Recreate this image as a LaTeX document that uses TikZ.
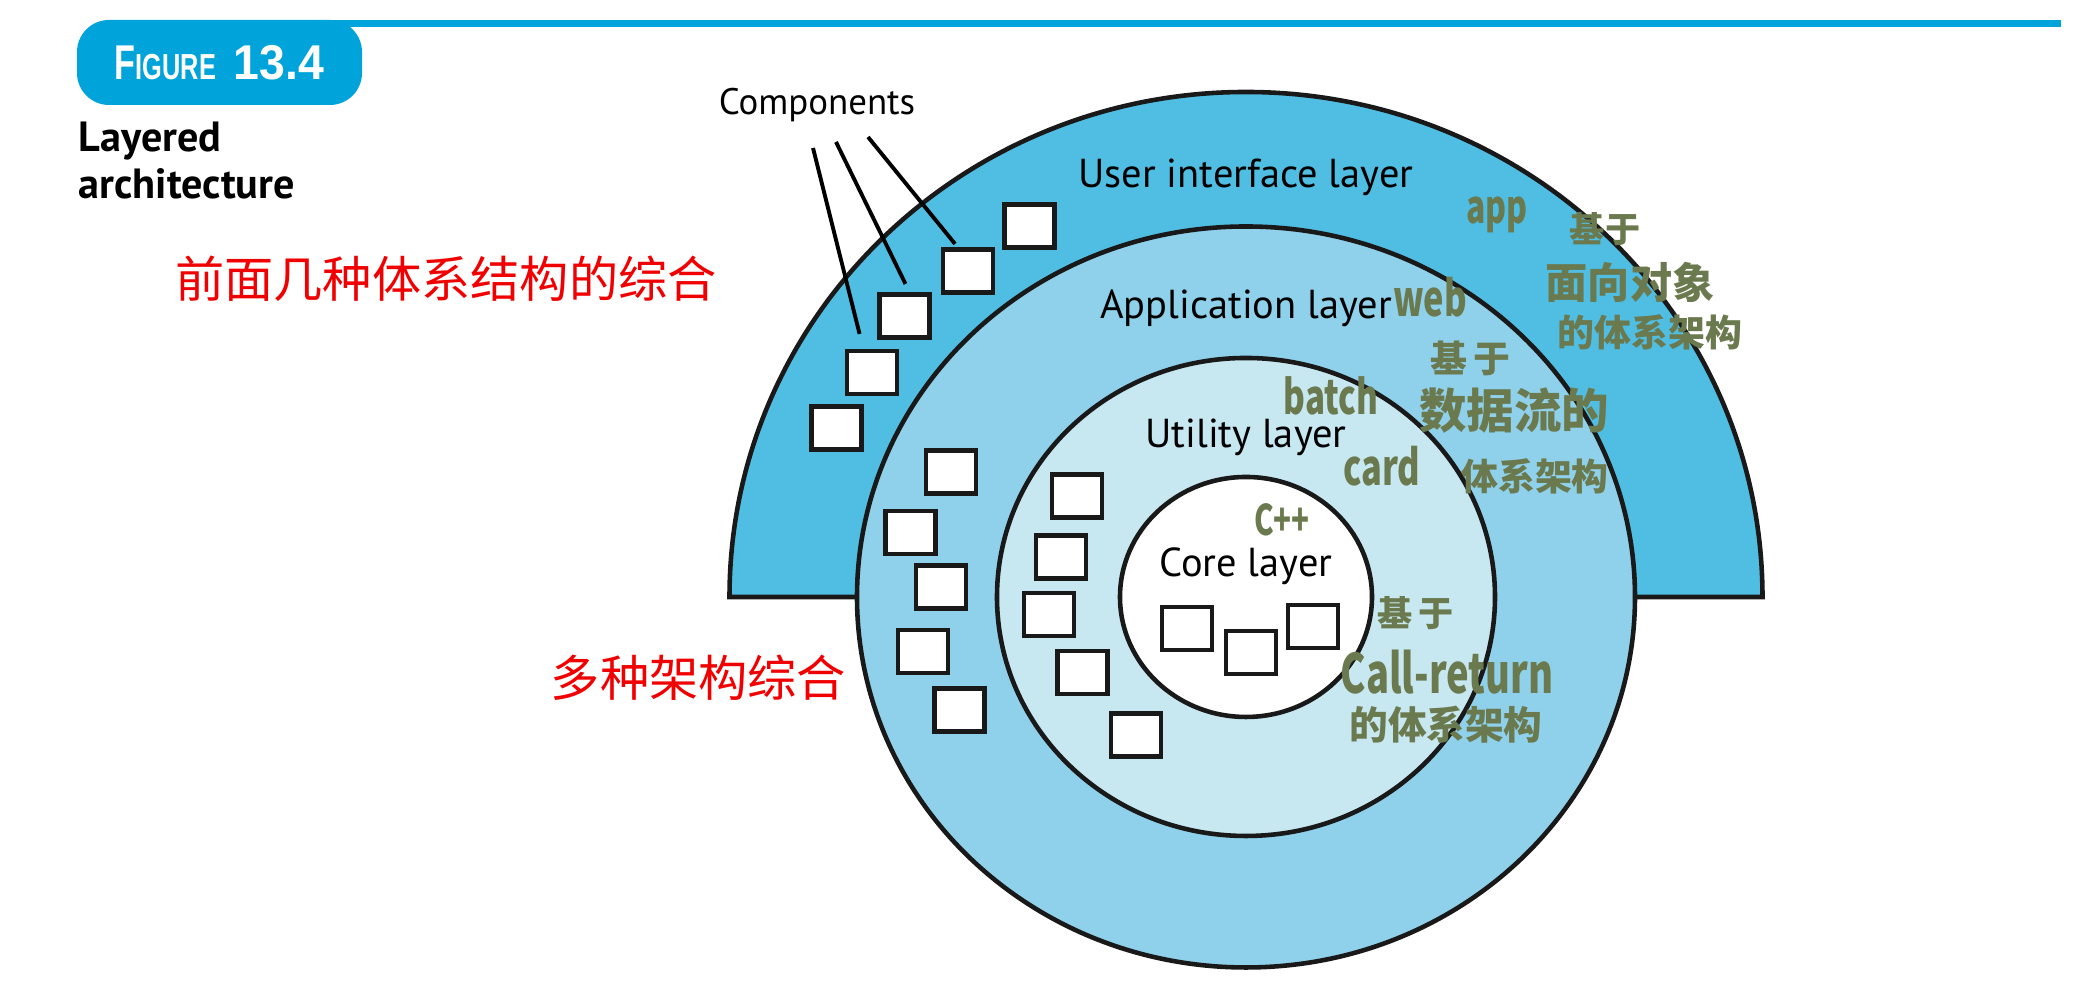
\documentclass[tikz,border=0pt]{standalone}
\usepackage{graphicx}
\usepackage{fontspec}
\setmainfont{PT Sans}
\newfontfamily\cjkfont{Noto Sans CJK SC}
\newfontfamily\figfont{Liberation Sans}
\usetikzlibrary{positioning, calc}
\definecolor{figblue}{RGB}{0,163,218}
\definecolor{uiblue}{RGB}{80,190,227}
\definecolor{appblue}{RGB}{143,208,234}
\definecolor{utilblue}{RGB}{199,231,241}
\definecolor{handgreen}{RGB}{107,122,78}
\definecolor{notered}{RGB}{240,0,0}
\newcommand{\narrow}[1]{\scalebox{0.7}[1]{#1}}

\begin{document}
\begin{tikzpicture}[
	layer/.style={font=\fontsize{11.5}{13}\selectfont, anchor=base, inner sep=0pt},
	comp/.style={draw=black!90, fill=white, line width=1.4pt,
		minimum width=5mm, minimum height=4.3mm, inner sep=0pt},
	ring/.style={draw=black!90, line width=1.3pt},
	hand/.style={text=handgreen, inner sep=0pt,
		font=\cjkfont\bfseries\fontsize{#1}{#1}\selectfont},
	note/.style={text=notered, inner sep=0pt,
		font=\cjkfont\fontsize{14}{16}\selectfont}
	]
	\useasboundingbox (0,0) rectangle (20.74,10);
	
	\fill[figblue] (3.3,9.73) rectangle (20.61,9.80);
	\node[fill=figblue, rounded corners=3.2mm,
	minimum width=2.85cm, minimum height=0.85cm, text=white,
	font=\figfont\bfseries\fontsize{13.9}{15}\selectfont]
	(fig) at (2.195,9.375)
	{\scalebox{0.7}[1]{F{\fontsize{10.3}{12}\selectfont IGURE}}\hspace{1.8mm}\scalebox{0.95}[1]{13.4}};
	
	\node[anchor=base west, inner sep=0pt, font=\bfseries\fontsize{12}{14}\selectfont]
	(title1) at (0.78,8.48) {Layered};
	\node[anchor=base west, inner sep=0pt, font=\bfseries\fontsize{12}{14}\selectfont]
	(title2) at (0.78,8.01) {architecture};
	
	\filldraw[ring, fill=uiblue, line join=miter] (7.295,4.03)
	arc[start angle=180, end angle=0, x radius=5.165cm, y radius=5.05cm] -- cycle;
	\filldraw[ring, fill=appblue] (12.46,4.03) ellipse [x radius=3.89cm, y radius=3.705cm];
	\filldraw[ring, fill=utilblue] (12.46,4.03) ellipse [x radius=2.49cm, y radius=2.39cm];
	\filldraw[ring, fill=white] (12.46,4.03) ellipse [x radius=1.26cm, y radius=1.2cm];
	
	\node[layer] (uil) at (12.46,8.12) {User interface layer};
	\node[layer] (appl) at (12.46,6.81) {Application layer};
	\node[layer] (utill) at (12.46,5.52) {Utility layer};
	\node[layer] (corel) at (12.46,4.23) {Core layer};
	
	\foreach \n/\x/\y in {1/10.295/7.74, 2/9.68/7.29, 3/9.045/6.84, 4/8.72/6.275,
		5/8.365/5.72, 6/9.51/5.28, 7/9.105/4.675, 8/9.41/4.13, 9/9.23/3.485,
		10/9.595/2.90, 11/10.77/5.04, 12/10.61/4.43, 13/10.49/3.855,
		14/10.825/3.275, 15/11.36/2.65, 16/11.87/3.715, 17/12.51/3.475,
		18/13.13/3.735}
	\node[comp] (c\n) at (\x,\y) {};
	
	\node[anchor=base, inner sep=0pt, font=\fontsize{10.5}{12}\selectfont]
	(comps) at (8.17,8.85) {Components};
	\coordinate (l1) at (8.13,8.52);
	\coordinate (l2) at (8.36,8.58);
	\coordinate (l3) at (8.68,8.63);
	\draw[line width=1.1pt, shorten >=1.5mm] (l1) -- ($(c4.north west)!0.34!(c4.north east)$);
	\draw[line width=1.1pt, shorten >=0.9mm] (l2) -- ($(c3.north west)!0.59!(c3.north east)$);
	\draw[line width=1.1pt, shorten >=0.4mm] (l3) -- ($(c2.north west)!0.31!(c2.north east)$);
	
	\node[note] (note1) at (4.46,7.21) {前面几种体系结构的综合};
	\node[note] (note2) at (6.985,3.22) {多种架构综合};
	
	\node[hand=13] (app) at (14.97,7.85) {\narrow{app}};
	\node[hand=10] (oo1) at (16.05,7.71) {基于};
	\node[hand=12] (oo2) at (16.30,7.18) {面向对象};
	\node[hand=10.5] (oo3) at (16.50,6.68) {的体系架构};
	\node[hand=14] (web) at (14.30,7.03) {\narrow{web}};
	\node[hand=10.5] (df1) at (14.70,6.42) {基\,于};
	\node[hand=13.5] (df2) at (15.14,5.89) {数据流的};
	\node[hand=10.5] (df3) at (15.35,5.24) {体系架构};
	\node[hand=13.5] (batch) at (13.31,6.04) {\narrow{batch}};
	\node[hand=14] (card) at (13.82,5.34) {\narrow{card}};
	\node[hand=12] (cpp) at (12.82,4.80) {\narrow{C++}};
	\node[hand=10] (cr1) at (14.16,3.87) {基\,于};
	\node[hand=15.5] (cr2) at (14.47,3.28) {\narrow{Call-return}};
	\node[hand=11] (cr3) at (14.46,2.75) {的体系架构};
\end{tikzpicture}
\end{document}
